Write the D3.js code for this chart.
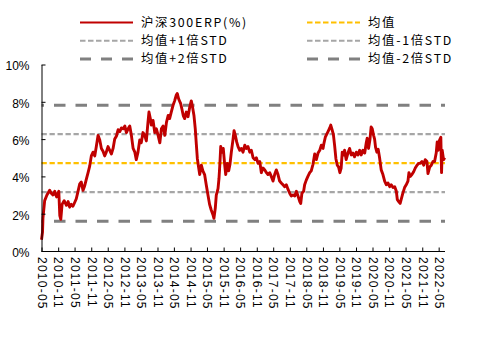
<!DOCTYPE html>
<html>
<head>
<meta charset="utf-8">
<script src="https://cdn.jsdelivr.net/npm/d3@7"></script>
<style>
  html, body { margin: 0; padding: 0; background: #fff; }
  svg { display: block; }
</style>
</head>
<body>
<svg id="chart" width="502" height="342"></svg>
<script>
// ---------------- data ----------------
const dates = [
"2010-05-01","2010-05-12","2010-05-17","2010-06-05","2010-06-30","2010-07-30","2010-08-17","2010-09-05","2010-09-24","2010-10-14",
"2010-11-08","2010-11-19","2010-11-30","2010-12-14","2011-01-06","2011-01-31","2011-02-19","2011-03-08","2011-03-25","2011-04-13",
"2011-05-02","2011-05-20","2011-06-08","2011-06-27","2011-07-14","2011-08-02","2011-08-21","2011-09-08","2011-09-27","2011-10-15",
"2011-11-02","2011-11-21","2011-12-10","2011-12-27","2012-01-15","2012-02-03","2012-02-21","2012-03-10","2012-03-28","2012-04-15",
"2012-05-04","2012-05-23","2012-06-10","2012-06-29","2012-07-17","2012-08-04","2012-08-23","2012-09-11","2012-09-29","2012-10-17",
"2012-11-06","2012-11-23","2012-12-12","2012-12-30","2013-01-17","2013-02-05","2013-02-24","2013-03-12","2013-03-31","2013-04-19",
"2013-05-06","2013-05-25","2013-06-13","2013-07-01","2013-07-19","2013-07-30","2013-08-14","2013-08-25","2013-09-13","2013-10-02",
"2013-10-20","2013-11-08","2013-11-27","2013-12-14","2014-01-02","2014-01-21","2014-02-08","2014-02-27","2014-03-15","2014-04-02",
"2014-04-21","2014-05-09","2014-05-27","2014-06-07","2014-06-23","2014-07-15","2014-07-29","2014-08-13","2014-08-28","2014-09-15",
"2014-10-04","2014-10-22","2014-11-09","2014-11-20","2014-12-09","2014-12-23","2015-01-04","2015-01-15","2015-01-30","2015-02-10",
"2015-02-28","2015-03-17","2015-04-05","2015-04-23","2015-05-12","2015-05-30","2015-06-17","2015-07-06","2015-07-17","2015-08-01",
"2015-08-12","2015-08-31","2015-09-11","2015-09-22","2015-09-30","2015-10-14","2015-10-28","2015-11-13","2015-11-24","2015-12-11",
"2015-12-27","2016-01-10","2016-01-25","2016-02-13","2016-02-24","2016-03-09","2016-03-24","2016-04-08","2016-04-27","2016-05-14",
"2016-06-02","2016-06-21","2016-07-08","2016-07-27","2016-08-15","2016-09-02","2016-09-21","2016-10-10","2016-10-27","2016-11-15",
"2016-12-04","2016-12-21","2017-01-09","2017-01-28","2017-02-15","2017-03-04","2017-03-23","2017-04-10","2017-04-29","2017-05-17",
"2017-06-04","2017-06-23","2017-07-11","2017-07-29","2017-08-17","2017-09-05","2017-09-23","2017-10-12","2017-10-30","2017-11-17",
"2017-12-06","2017-12-25","2018-01-12","2018-01-30","2018-02-18","2018-03-01","2018-03-14","2018-04-02","2018-04-13","2018-05-01",
"2018-05-19","2018-06-08","2018-06-25","2018-07-14","2018-08-02","2018-08-20","2018-09-08","2018-09-27","2018-10-14","2018-11-02",
"2018-11-13","2018-11-27","2018-12-12","2018-12-27","2019-01-15","2019-01-26","2019-02-10","2019-02-24","2019-03-10","2019-03-24",
"2019-04-08","2019-04-23","2019-05-07","2019-05-21","2019-06-02","2019-06-17","2019-06-28","2019-07-15","2019-08-04","2019-08-22",
"2019-09-09","2019-09-28","2019-10-16","2019-11-04","2019-11-22","2019-12-11","2019-12-28","2020-01-16","2020-02-05","2020-02-22",
"2020-03-03","2020-03-18","2020-04-02","2020-04-16","2020-04-28","2020-05-13","2020-05-24","2020-06-04","2020-06-18","2020-07-03",
"2020-07-18","2020-08-05","2020-08-24","2020-09-12","2020-09-30","2020-10-18","2020-11-07","2020-11-24","2020-12-13","2021-01-01",
"2021-01-19","2021-01-30","2021-02-14","2021-03-02","2021-03-13","2021-04-01","2021-04-20","2021-05-08","2021-05-27","2021-06-07",
"2021-06-21","2021-07-10","2021-07-29","2021-08-16","2021-09-04","2021-09-23","2021-10-10","2021-10-29","2021-11-17","2021-12-04",
"2021-12-23","2022-01-03","2022-01-22","2022-02-09","2022-02-28","2022-03-17","2022-04-04","2022-04-15","2022-04-26","2022-05-11",
"2022-05-25","2022-06-02","2022-06-09","2022-06-24","2022-07-08"
];
const erpValues = [
0.6,1.0,1.76,2.7,3.0,3.26,3.1,3.0,3.2,2.9,
3.2,1.9,1.7,2.5,2.7,2.45,2.65,2.35,2.5,2.4,
2.6,2.8,3.2,3.6,3.7,3.25,3.5,3.85,4.2,4.55,
5.1,5.3,5.1,5.6,6.2,5.95,5.5,5.35,5.1,5.3,
5.6,5.4,5.2,5.5,6.0,6.15,6.5,6.4,6.6,6.55,
6.7,6.35,6.55,6.7,6.2,5.5,5.3,4.9,5.3,5.95,
5.8,6.35,6.2,5.9,6.9,7.45,7.1,6.75,7.0,6.35,
6.55,6.2,5.8,6.55,6.7,6.2,6.9,7.27,7.1,7.45,
7.8,8.05,8.35,8.45,8.15,7.9,7.6,7.25,7.1,7.45,
7.2,7.7,8.05,7.8,7.25,6.55,5.7,4.95,4.45,4.1,
4.6,4.3,4.1,3.55,3.0,2.5,2.2,1.95,1.75,2.3,
3.0,3.35,3.9,4.8,5.6,5.3,5.5,4.6,4.1,4.7,
4.3,4.65,5.3,6.0,6.45,6.2,5.85,5.6,5.4,5.5,
5.3,5.67,5.5,5.6,5.3,5.4,5.0,4.9,5.0,4.7,
4.8,4.2,4.45,4.35,4.2,4.1,4.2,4.0,3.75,4.1,
4.35,4.1,3.75,3.65,3.55,3.45,3.55,3.3,3.1,2.95,
3.0,2.95,3.2,2.95,2.65,2.55,3.1,3.2,3.55,3.8,
4.0,4.2,4.3,4.65,5.2,4.9,5.25,5.4,5.67,5.5,
5.8,6.1,6.25,6.4,6.6,6.75,6.5,6.25,5.65,4.95,
4.6,4.5,4.2,4.45,5.3,5.15,5.4,4.9,5.25,5.5,
5.15,5.25,5.05,5.3,5.15,5.4,5.15,5.4,5.25,5.8,
6.05,5.5,5.95,6.65,6.55,6.2,6.0,5.55,5.3,5.45,
5.0,4.35,4.1,3.75,3.55,3.65,3.45,3.55,3.4,3.45,
3.2,2.75,2.65,2.55,2.75,3.1,3.4,3.55,3.75,4.2,
4.0,4.1,4.25,4.45,4.6,4.7,4.7,4.8,4.6,4.9,
4.8,4.15,4.5,4.6,4.8,4.8,5.25,5.85,5.4,5.95,
6.1,4.2,5.4,4.9,5.0
];
const meanValue = 4.71;
const stdValue = 1.555;
const xDomain = ["2010-05-01", "2022-07-10"];
const xTickLabels = ["2010-05","2010-11","2011-05","2011-11","2012-05","2012-11","2013-05","2013-11",
  "2014-05","2014-11","2015-05","2015-11","2016-05","2016-11","2017-05","2017-11","2018-05","2018-11",
  "2019-05","2019-11","2020-05","2020-11","2021-05","2021-11","2022-05"];
const yTickValues = [0, 2, 4, 6, 8, 10];
const legendLabels = ["沪深300ERP(%)", "均值", "均值+1倍STD", "均值-1倍STD", "均值+2倍STD", "均值-2倍STD"];
const bandMultipliers = [0, 1, -1, 2, -2];

// ---------------- drawing ----------------
(function () {
const parse = d3.timeParse("%Y-%m-%d");
const parseM = d3.timeParse("%Y-%m");
const series = dates.map((d, i) => ({ date: parse(d), value: erpValues[i] }));

const svg = d3.select("#chart");
const plotLeft = 41.5, plotRight = 445, plotTop = 64.5, plotBottom = 251;

const x = d3.scaleTime().domain(xDomain.map(parse)).range([plotLeft, plotRight]);
const y = d3.scaleLinear().domain([0, 10]).range([plotBottom, plotTop]);

const styles = {
  "0":  { color: "#FFC000", width: 2.3, dash: "5.3,2.7", offset: 0 },
  "1":  { color: "#A6A6A6", width: 2.3, dash: "5.3,2.7", offset: 0 },
  "-1": { color: "#A6A6A6", width: 2.3, dash: "5.3,2.7", offset: 0 },
  "2":  { color: "#808080", width: 3, dash: "11.5,10", offset: 9 },
  "-2": { color: "#808080", width: 3, dash: "11.5,10", offset: 9 }
};

// band lines
bandMultipliers.forEach(k => {
  const v = meanValue + k * stdValue;
  const s = styles[String(k)];
  svg.append("line")
    .attr("x1", x.range()[0]).attr("x2", x.range()[1])
    .attr("y1", y(v)).attr("y2", y(v))
    .attr("stroke", s.color).attr("stroke-width", s.width)
    .attr("stroke-dasharray", s.dash).attr("stroke-dashoffset", s.offset);
});

// ERP line
const line = d3.line().x(d => x(d.date)).y(d => y(d.value)).curve(d3.curveLinear);
svg.append("path").datum(series)
  .attr("d", line)
  .attr("fill", "none")
  .attr("stroke", "#C00000")
  .attr("stroke-width", 2.9)
  .attr("stroke-linejoin", "round");

// X axis
const xAxis = d3.axisBottom(x)
  .tickValues(xTickLabels.map(parseM))
  .tickSizeInner(-3.5).tickSizeOuter(0)
  .tickFormat(d3.timeFormat("%Y-%m"));
const gx = svg.append("g").attr("transform", `translate(0,${plotBottom})`).call(xAxis);
gx.select(".domain").attr("stroke", "#000").attr("d", `M${plotLeft},0.5H${plotRight}`);
gx.selectAll(".tick line").attr("stroke", "#000");
gx.selectAll(".tick text")
  .attr("font-family", "Arial, 'Liberation Sans', sans-serif")
  .attr("font-size", 12)
  .attr("letter-spacing", 1.25)
  .attr("fill", "#000")
  .attr("text-anchor", "start")
  .attr("transform", "rotate(90)")
  .attr("x", 6).attr("y", 0).attr("dy", "0.35em");

// Y axis
const yAxis = d3.axisLeft(y)
  .tickValues(yTickValues)
  .tickSizeInner(-4).tickSizeOuter(0)
  .tickFormat(d => d + "%");
const gy = svg.append("g").attr("transform", `translate(${plotLeft},0)`).call(yAxis);
gy.select(".domain").attr("stroke", "#000");
gy.selectAll(".tick line").attr("stroke", "#000");
gy.selectAll(".tick text")
  .attr("font-family", "Arial, 'Liberation Sans', sans-serif")
  .attr("font-size", 12)
  .attr("fill", "#000")
  .attr("x", -12).attr("dy", "0.45em");

// Legend
const legendItems = [
  { label: legendLabels[0], color: "#C00000", width: 2, dash: null, col: 0, row: 0 },
  { label: legendLabels[1], color: "#FFC000", width: 2, dash: "5.5,2.5", col: 1, row: 0 },
  { label: legendLabels[2], color: "#A6A6A6", width: 2, dash: "5.5,2.5", col: 0, row: 1 },
  { label: legendLabels[3], color: "#A6A6A6", width: 2, dash: "5.5,2.5", col: 1, row: 1 },
  { label: legendLabels[4], color: "#808080", width: 3, dash: "11,10", col: 0, row: 2 },
  { label: legendLabels[5], color: "#808080", width: 3, dash: "11,10", col: 1, row: 2 }
];
const colX = [80, 307];
const rowY = [22.5, 40.7, 58.9];
const lg = svg.append("g");
legendItems.forEach(it => {
  const x0 = colX[it.col], yy = rowY[it.row];
  lg.append("line")
    .attr("x1", x0).attr("x2", x0 + 53).attr("y1", yy).attr("y2", yy)
    .attr("stroke", it.color).attr("stroke-width", it.width)
    .attr("stroke-dasharray", it.dash);
  lg.append("text")
    .attr("x", x0 + 61).attr("y", yy).attr("dy", "0.36em")
    .attr("font-family", "'Noto Sans CJK SC', sans-serif")
    .attr("font-size", 12.4)
    .attr("letter-spacing", 1.7)
    .attr("fill", "#000")
    .text(it.label);
});
})();
</script>
</body>
</html>
